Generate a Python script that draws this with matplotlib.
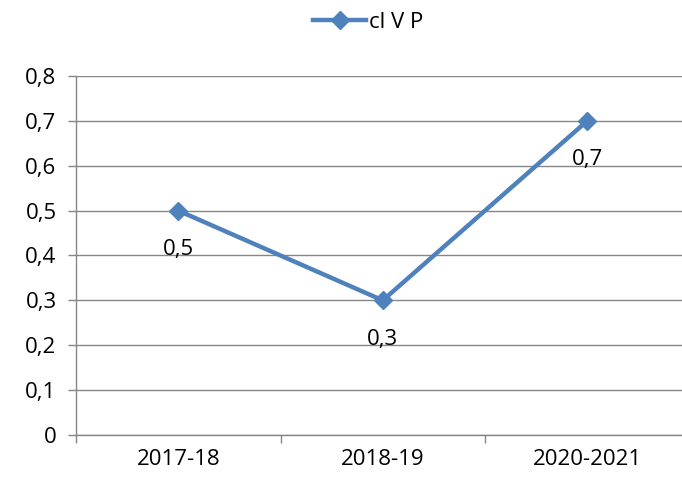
import matplotlib
matplotlib.use("Agg")
from matplotlib import pyplot as plt
from matplotlib.ticker import FixedLocator, FuncFormatter

categories = ["2017-18", "2018-19", "2020-2021"]
values = [0.5, 0.3, 0.7]
series_name = "cl V P"
yticks = [0, 0.1, 0.2, 0.3, 0.4, 0.5, 0.6, 0.7, 0.8]

plt.rcParams['font.family'] = ['Open Sans', 'DejaVu Sans']
blue = '#4F81BD'
grey = '#868686'
fs = 16

fig = plt.figure(figsize=(6.82, 4.84), dpi=100)
ax = fig.add_axes([76 / 682, 49 / 484, 613.5 / 682, 359 / 484])

xs = range(len(categories))
line, = ax.plot(xs, values, color=blue, lw=3.2, marker='D', ms=9, label=series_name)

for x, v in zip(xs, values):
    ax.annotate(f"{v:.1f}".replace('.', ','), (x, v), xytext=(0, -28),
                textcoords='offset points', ha='center', va='center', fontsize=fs)

ax.set_xlim(-0.5, 2.5)
ax.set_ylim(0, 0.8)
ax.set_yticks(yticks)
ax.yaxis.set_major_formatter(FuncFormatter(lambda v, p: "0" if v == 0 else f"{v:.1f}".replace('.', ',')))
ax.set_xticks(list(xs))
ax.set_xticklabels(categories)
ax.xaxis.set_minor_locator(FixedLocator([-0.5, 0.5, 1.5, 2.5]))
ax.tick_params(axis='x', which='major', length=0, labelsize=fs, pad=10)
ax.tick_params(axis='x', which='minor', length=6, color=grey, width=1)
ax.tick_params(axis='y', length=6, color=grey, width=1, labelsize=fs, pad=8)

ax.grid(axis='y', color=grey, lw=1)
ax.set_axisbelow(True)
for s in ['top', 'right']:
    ax.spines[s].set_visible(False)
for s in ['left', 'bottom']:
    ax.spines[s].set_color(grey)
    ax.spines[s].set_linewidth(1)

fig.legend(handles=[line], loc='center', bbox_to_anchor=(368 / 682, 1 - 22 / 484),
           frameon=False, fontsize=fs, handlelength=2.4, handletextpad=0.1)

plt.savefig("out.png", dpi=100)
